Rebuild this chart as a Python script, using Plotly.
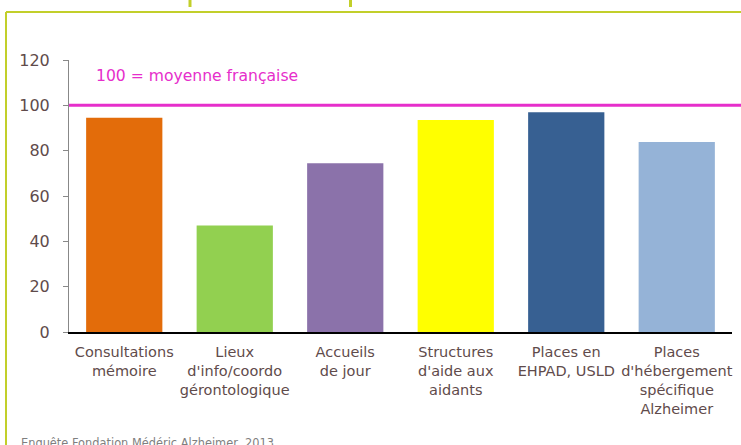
import plotly.graph_objects as go

categories = ["Consultations<br>mémoire", "Lieux<br>d'info/coordo<br>gérontologique",
              "Accueils<br>de jour", "Structures<br>d'aide aux<br>aidants",
              "Places en<br>EHPAD, USLD", "Places<br>d'hébergement<br>spécifique<br>Alzheimer"]
values = [94.5, 47, 74.5, 93.5, 97, 83.8]
colors = ["#e36c0a", "#92d050", "#8b72aa", "#ffff00", "#376092", "#95b3d7"]
reference_value = 100
reference_label = "100 = moyenne française"
source = "Enquête Fondation Médéric Alzheimer, 2013"
y_ticks = [0, 20, 40, 60, 80, 100, 120]

FONT = "DejaVu Sans"
TXT = "#5f4b4b"
GREEN = "#c2cf2a"
MAGENTA = "#e62ecb"

fig = go.Figure(go.Bar(x=categories, y=values, marker=dict(color=colors, line=dict(width=0)),
                       width=0.69))

W, H = 741, 445
L, R, T, B = 69, 9, 60, 113
pw, ph = W - L - R, H - T - B

def px(p):
    return (p - L) / pw

def py(q):
    return (H - B - q) / ph

shapes = [
    dict(type="line", xref="paper", yref="y", x0=0, x1=1.03, y0=reference_value, y1=reference_value,
         line=dict(color=MAGENTA, width=3)),
    dict(type="line", xref="paper", yref="paper", x0=px(6), x1=1.05, y0=py(12), y1=py(12),
         line=dict(color=GREEN, width=2)),
    dict(type="line", xref="paper", yref="paper", x0=px(6), x1=px(6), y0=py(12), y1=py(460),
         line=dict(color=GREEN, width=2)),
    dict(type="line", xref="paper", yref="paper", x0=px(190), x1=px(190), y0=py(-2), y1=py(7),
         line=dict(color=GREEN, width=3)),
    dict(type="line", xref="paper", yref="paper", x0=px(350.5), x1=px(350.5), y0=py(-2), y1=py(7),
         line=dict(color=GREEN, width=3)),
]

annotations = [
    dict(text=reference_label, xref="paper", yref="paper", x=px(94), y=py(76), xanchor="left",
         yanchor="middle", showarrow=False, font=dict(family=FONT, size=15.6, color=MAGENTA)),
    dict(text=source, xref="paper", yref="paper", x=px(19), y=py(443), xanchor="left",
         yanchor="middle", showarrow=False, font=dict(family=FONT, size=11.4, color="#7f7f7f")),
]

fig.update_layout(
    width=W, height=H,
    margin=dict(l=L, r=R, t=T, b=B, autoexpand=False),
    paper_bgcolor="white", plot_bgcolor="white",
    showlegend=False,
    font=dict(family=FONT, size=14, color=TXT),
    shapes=shapes, annotations=annotations,
    xaxis=dict(showline=True, linecolor="black", linewidth=2, ticks="", showgrid=False,
               ticklabelstandoff=6, tickfont=dict(size=14.5, color=TXT)),
    yaxis=dict(range=[0, 120], tickvals=y_ticks, showline=True, linecolor="#888888", linewidth=1,
               ticks="outside", ticklen=5, tickcolor="#888888", showgrid=False, zeroline=False,
               ticklabelstandoff=10, tickfont=dict(size=16, color=TXT)),
)

fig.write_html("out.html", config={"displayModeBar": False},
               post_script="document.body.style.margin='0';document.body.style.overflow='hidden';")
